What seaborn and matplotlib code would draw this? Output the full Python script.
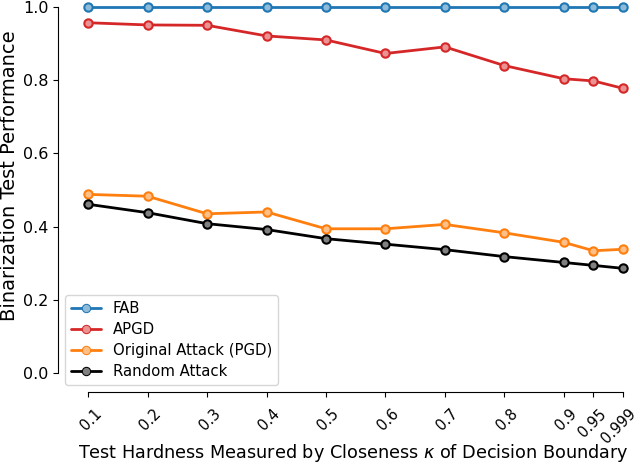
import matplotlib
matplotlib.use("Agg")
import matplotlib.pyplot as plt
import matplotlib.colors as mcolors
from matplotlib.transforms import ScaledTranslation
import seaborn as sns
import pandas as pd

kappa = [0.1, 0.2, 0.3, 0.4, 0.5, 0.6, 0.7, 0.8, 0.9, 0.95, 0.999]
tick_labels = ["0.1", "0.2", "0.3", "0.4", "0.5", "0.6", "0.7", "0.8", "0.9", "0.95", "0.999"]
fab = [1.0, 1.0, 1.0, 1.0, 1.0, 1.0, 1.0, 1.0, 1.0, 1.0, 1.0]
apgd = [0.957, 0.951, 0.950, 0.921, 0.910, 0.873, 0.891, 0.840, 0.804, 0.798, 0.778]
pgd = [0.488, 0.483, 0.435, 0.440, 0.394, 0.394, 0.406, 0.383, 0.357, 0.334, 0.338]
random_attack = [0.461, 0.438, 0.408, 0.392, 0.367, 0.352, 0.337, 0.318, 0.302, 0.294, 0.286]

series = {
    "FAB": fab,
    "APGD": apgd,
    "Original Attack (PGD)": pgd,
    "Random Attack": random_attack,
}
colors = ["#1f77b4", "#d62728", "#ff7f0e", "black"]

rows = []
for name, vals in series.items():
    for k, v in zip(kappa, vals):
        rows.append({"kappa": k, "score": v, "method": name})
df = pd.DataFrame(rows)


def pale(c):
    r, g, b = mcolors.to_rgb(c)
    return (0.5 + r / 2, 0.5 + g / 2, 0.5 + b / 2)


sns.set_style("ticks")
plt.rcParams.update({"text.color": "black", "axes.labelcolor": "black",
                     "xtick.color": "black", "ytick.color": "black",
                     "axes.edgecolor": "black",
                     "xtick.major.size": 3.5, "ytick.major.size": 3.5})
fig, ax = plt.subplots(figsize=(6.4, 4.67), dpi=100)
sns.lineplot(data=df, x="kappa", y="score", hue="method", palette=colors,
             marker="o", markersize=6, linewidth=2, ax=ax)
for line, c in zip(ax.get_lines(), colors):
    line.set_markerfacecolor(pale(c))
    line.set_markeredgecolor(c)
    line.set_markeredgewidth(1.5)
    line.set_clip_on(False)

ax.set_ylim(0, 1.0)
ax.set_xlim(0.082, 1.011)
ax.set_xticks(kappa)
ax.set_yticks([0.0, 0.2, 0.4, 0.6, 0.8, 1.0])
sns.despine(offset=14, trim=True)
ax.set_xticks(kappa)
ax.set_xticklabels(tick_labels, rotation=45, ha="right", rotation_mode="anchor", fontsize=10.5)
shift = ScaledTranslation(4 / 72, -3 / 72, fig.dpi_scale_trans)
for lbl in ax.get_xticklabels():
    lbl.set_transform(lbl.get_transform() + shift)
ax.tick_params(axis="y", labelsize=11.5)
ax.set_xlabel(r"Test Hardness Measured by Closeness $\kappa$ of Decision Boundary",
              fontsize=12.7)
ax.xaxis.set_label_coords(0.5, -0.188)
ax.set_ylabel("Binarization Test Performance", fontsize=14)
ax.yaxis.set_label_coords(-0.105, 0.538)
leg = ax.legend(loc="lower left", bbox_to_anchor=(-0.022, -0.033), borderaxespad=0,
                fontsize=10.7, labelspacing=0.4, frameon=True)
for h, c in zip(leg.legend_handles, colors):
    h.set_markerfacecolor(pale(c))
    h.set_markeredgecolor(c)
fig.subplots_adjust(left=0.121, right=0.984, top=0.985, bottom=0.2013)
plt.savefig("out.png", dpi=100)
